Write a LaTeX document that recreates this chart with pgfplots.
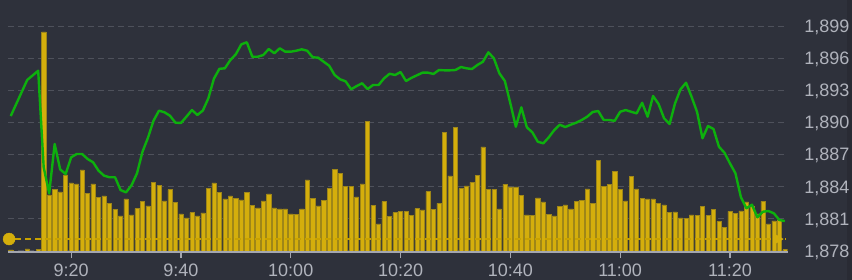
\documentclass[border=0pt]{standalone}
\usepackage{pgfplots}
\pgfplotsset{compat=1.18}
\usepackage{pgfplotstable}
\usepackage{fontspec}
\setmainfont{Liberation Sans}
\definecolor{bg}{HTML}{2E313B}
\definecolor{gridc}{HTML}{4E515B}
\definecolor{volf}{HTML}{D4AE0C}
\definecolor{vole}{HTML}{9E8618}
\definecolor{pricec}{HTML}{0DB00D}
\definecolor{labc}{HTML}{B0B3BC}
\definecolor{axc}{HTML}{A3A6AF}
\definecolor{refc}{HTML}{C9A200}

\pgfplotstableread{
m v
9 2
12 3
14 2.5
15 220
16 57
17 62.7
18 60
19 77
20 69
21 68
22 82
23 58.7
24 68
25 54.7
26 56
27 48.7
28 42.7
29 36
30 53
31 37
32 43.3
33 50.7
34 46
35 69.7
36 66.3
37 51
38 62.3
39 49.7
40 38
41 34
42 39.3
43 36
44 39
45 63.3
46 69
47 59.7
48 53
49 56
50 53.7
51 52
52 59.7
53 46.3
54 44
55 51
56 58
57 44
58 43
59 43
60 38
61 37.7
62 43
63 72
64 53.7
65 46
66 51.7
67 63.7
68 82.7
69 78.3
70 65.7
71 65.7
72 55
73 68
74 130.7
75 46.7
76 28
77 50.3
78 35.3
79 39.3
80 40.7
81 40.3
82 36.7
83 43.3
84 42
85 60.3
86 42.3
87 48.7
88 119.7
89 76
90 124.3
91 63.3
92 66
93 69.7
94 76.3
95 105
96 62.3
97 62.7
98 43
99 67.7
100 65
101 65
102 56.7
103 37
104 36.3
105 54
106 50
107 37.7
108 36
109 45.7
110 47
111 43
112 50.7
113 51.7
114 63
115 48.3
116 91.3
117 65.7
118 67.7
119 80.7
120 62.3
121 51
122 75.7
123 63
124 53.7
125 53
126 53
127 48.7
128 47
129 39.7
130 40
131 34
132 33.5
133 37
134 36.3
135 45.7
136 36.3
137 42.7
138 30.7
139 24.7
140 40.7
141 38.3
142 41
143 50
144 46
145 38
146 50.7
147 28
148 31
149 32
150 2.7
}\voltable

\pgfplotstableread{
m p
9 1890.59
12 1893.96
14 1894.82
15 1885.8
16 1883.37
17 1887.98
18 1885.61
19 1885.17
20 1886.73
21 1887.04
22 1887.04
23 1886.58
24 1886.27
25 1885.48
26 1885.02
27 1884.87
28 1884.87
29 1883.68
30 1883.46
31 1884.12
32 1885.24
33 1887.26
34 1888.57
35 1890.15
36 1891.09
37 1890.94
38 1890.62
39 1889.97
40 1889.94
41 1890.53
42 1891.15
43 1890.69
44 1891.11
45 1892.26
46 1894.07
47 1895.0
48 1895.05
49 1895.82
50 1896.36
51 1897.29
52 1897.48
53 1896.13
54 1896.13
55 1896.29
56 1896.85
57 1896.45
58 1896.92
59 1896.6
60 1896.6
61 1896.69
62 1896.82
63 1896.69
64 1896.08
65 1896.04
66 1895.66
67 1895.29
68 1894.42
69 1894.02
70 1893.83
71 1893.09
72 1893.39
73 1893.65
74 1893.11
75 1893.49
76 1893.49
77 1894.11
78 1894.54
79 1894.42
80 1894.7
81 1893.86
82 1894.16
83 1894.4
84 1894.64
85 1894.64
86 1894.52
87 1894.89
88 1894.86
89 1894.86
90 1894.89
91 1895.17
92 1895.05
93 1894.98
94 1895.36
95 1895.66
96 1896.54
97 1895.98
98 1894.58
99 1893.86
100 1891.78
101 1889.59
102 1891.4
103 1889.54
104 1889.07
105 1888.19
106 1888.04
107 1888.6
108 1889.28
109 1889.78
110 1889.56
111 1889.78
112 1889.97
113 1890.22
114 1890.53
115 1890.97
116 1891.06
117 1890.22
118 1890.22
119 1890.14
120 1890.99
121 1891.15
122 1890.99
123 1890.84
124 1891.83
125 1890.53
126 1892.46
127 1891.71
128 1890.38
129 1889.84
130 1891.78
131 1893.09
132 1893.7
133 1892.4
134 1890.99
135 1888.51
136 1889.66
137 1889.38
138 1887.72
139 1887.16
140 1886.17
141 1885.24
142 1883.0
143 1881.97
144 1882.31
145 1881.13
146 1881.65
147 1881.72
148 1881.5
149 1880.88
150 1880.78
}\pricetable

\begin{document}
\begin{tikzpicture}[x=1pt,y=1pt]
\fill[bg] (0,0) rectangle (852,280);
\fill[bg!88!black] (847,0) rectangle (852,280);
\pgfplotsset{base/.style={scale only axis, width=779.6pt, height=252pt,
  at={(8pt,28pt)}, anchor=south west, xmin=8.5, xmax=150.5}}
% grid
\begin{axis}[base, ymin=1877.89, ymax=1901.43,
  ytick={1878,1881,...,1899}, xtick=\empty, yticklabels={},
  axis line style={draw=none}, tick style={draw=none},
  ymajorgrids, grid style={gridc, dash pattern=on 6pt off 4pt, line width=1pt}]
\end{axis}
% volume bars
\begin{axis}[base, ymin=0, ymax=252, hide axis]
\addplot[ybar, bar width=4.2pt, fill=volf, draw=vole, line width=0.5pt] table[x=m,y=v]{\voltable};
\end{axis}
% price
\begin{axis}[base, ymin=1877.89, ymax=1901.43, clip=false,
  axis x line*=bottom, axis y line*=right,
  every outer x axis line/.append style={axc, line width=1.5pt},
  every outer y axis line/.append style={draw=none},
  xtick={20,40,...,140},
  xticklabels={9:20,9:40,10:00,10:20,10:40,11:00,11:20},
  ytick={1878,1881,...,1899},
  tick label style={font=\fontsize{18}{20}\selectfont, text=labc},
  /pgf/number format/.cd, 1000 sep={,}, assume math mode=true, /pgfplots/.cd,
  x tick style={axc, line width=1.2pt}, y tick style={draw=none},
  tick align=outside, major tick length=6pt,
  xticklabel style={anchor=base, inner sep=0pt, yshift=-18.7pt},
  yticklabel style={anchor=base west, inner sep=0pt, xshift=10.5pt, yshift=-6.5pt}]
\addplot[refc, line width=1.2pt, dash pattern=on 6pt off 4pt] coordinates {(9.8,1879.1) (150.2,1879.1)};
\addplot[pricec, line width=2.4pt, line join=round] table[x=m,y=p]{\pricetable};
\addplot[only marks, mark=*, mark size=6pt, color=volf] coordinates {(8.7,1879.1)};
\addplot[only marks, mark=triangle*, mark size=6pt, mark options={rotate=-90}, color=volf] coordinates {(148.6,1879.1)};
\end{axis}
\pgfresetboundingbox
\path (0,0) rectangle (852,280);
\end{tikzpicture}
\end{document}
